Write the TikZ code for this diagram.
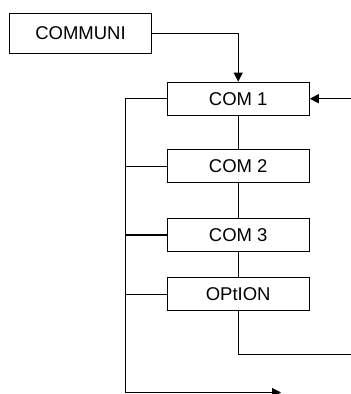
\documentclass[tikz,border=0pt]{standalone}
\usepackage{fontspec}
\setmainfont{Liberation Sans}
\usetikzlibrary{arrows.meta}
\begin{document}
\begin{tikzpicture}[x=1pt,y=-1pt,
  box/.style={draw, line width=1.1pt, minimum width=142pt, minimum height=33pt, inner sep=0pt,
    font=\fontsize{18.5}{20}\selectfont},
  wire/.style={line width=1.1pt},
  tip/.style={-{Triangle[length=9pt,width=9pt]}}]
\useasboundingbox (0,0) rectangle (351,394);
\node[box, minimum height=40pt] (communi) at (80.5,33.4) {COMMUNI};
\node[box] (com1) at (238.2,98.7) {COM 1};
\node[box] (com2) at (238.2,166.4) {COM 2};
\node[box] (com3) at (238.2,235) {COM 3};
\node[box] (opt) at (238.2,294.2) {OPtION};
\coordinate (lt) at (125.7,98.7);
\coordinate (lb) at (125.7,392.5);
\coordinate (bend) at (281,392.5);
\coordinate (ob) at (238.2,354.3);
\coordinate (rb) at (353,354.3);
\coordinate (rt) at (353,98.7);
\draw[wire,tip] (communi.east) -| (com1.north);
\draw[wire] (com1) -- (com2) (com2) -- (com3) (com3) -- (opt);
\draw[wire,tip] (com1.west) -- (lt) -- (lb) -- (bend);
\draw[wire] (com2.west) -- (com2.west -| lt);
\draw[wire] (com3.west) -- (com3.west -| lt);
\draw[wire] (opt.west) -- (opt.west -| lt);
\draw[wire,tip] (opt.south) -- (ob) -- (rb) -- (rt) -- (com1.east);
\end{tikzpicture}
\end{document}
